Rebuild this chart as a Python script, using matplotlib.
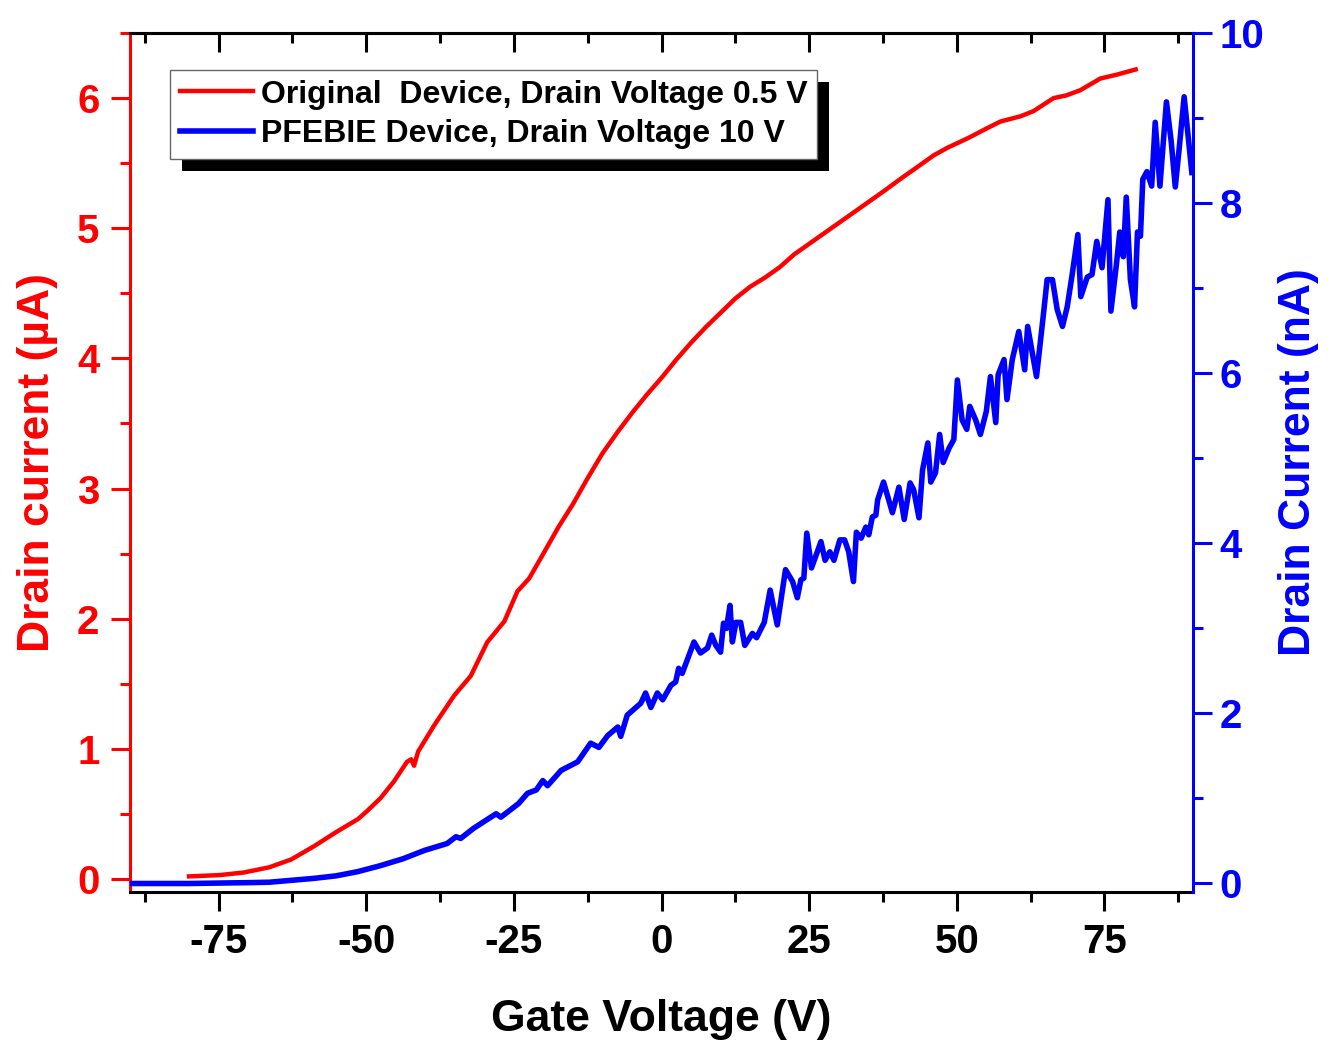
import numpy as np
import matplotlib.pyplot as plt
from matplotlib.ticker import MultipleLocator, NullFormatter
from matplotlib.patches import Rectangle
from matplotlib.transforms import IdentityTransform

plt.rcParams['font.family'] = ['Liberation Sans', 'DejaVu Sans']
plt.rcParams['font.weight'] = 'bold'
plt.rcParams['axes.labelweight'] = 'bold'
plt.rcParams['axes.unicode_minus'] = False

# original device, drain voltage 0.5 V  (gate voltage V, drain current uA)
red_v = [-80, -74.8, -70.7, -66.4, -62.7, -58.9, -55.1, -51.4, -49.9, -47.6,
         -45.3, -43.1, -42.4, -41.9, -41.2, -38.5, -35.1, -32.3, -29.5, -26.6,
         -24.4, -22.4, -20, -17.5, -15, -12.5, -10, -7.5, -5, -2.5,
         0, 2.5, 5, 7.5, 10, 12.5, 15, 17.5, 20, 22.5,
         25, 27.5, 30, 32.5, 35, 37.5, 40.5, 43, 46.1, 48.5,
         51.8, 55.2, 57.4, 60.8, 63, 66.4, 68.5, 70.9, 74.3, 77.1, 80.3]
red_i = [0.02, 0.03, 0.05, 0.09, 0.15, 0.25, 0.36, 0.46, 0.52, 0.62,
         0.75, 0.90, 0.92, 0.87, 0.98, 1.18, 1.41, 1.56, 1.82, 1.98,
         2.21, 2.31, 2.50, 2.70, 2.88, 3.08, 3.27, 3.43, 3.58, 3.72,
         3.85, 3.99, 4.12, 4.24, 4.35, 4.46, 4.55, 4.62, 4.70, 4.80,
         4.88, 4.96, 5.04, 5.12, 5.20, 5.28, 5.38, 5.46, 5.56, 5.62,
         5.69, 5.77, 5.82, 5.86, 5.90, 6.00, 6.02, 6.06, 6.15, 6.18, 6.22]

# PFEBIE device, drain voltage 10 V  (gate voltage V, drain current nA)
blue_v = [-90, -80, -70, -66.4, -58.9, -55.1, -51.4, -47.6, -43.8, -40.1,
          -36.3, -34.8, -34.0, -31.8, -28.0, -27.2, -24.2, -22.7, -21.2, -20.1,
          -19.3, -17.0, -14.2, -12.0, -10.6, -9.1, -7.4, -6.9, -5.8, -3.5,
          -2.7, -1.8, -0.7, 0.2, 1.6, 2.4, 2.9, 3.5, 5.5, 6.6,
          7.8, 8.5, 9.2, 10.0, 10.5, 11.0, 11.6, 12.0, 12.6, 13.4,
          14.1, 15.4, 16.1, 17.4, 18.4, 19.6, 21.0, 22.2, 23.0, 23.6,
          24.1, 24.6, 25.4, 27.0, 27.7, 28.5, 29.2, 30.2, 31.0, 31.7,
          32.5, 33.0, 33.8, 34.6, 35.1, 35.7, 36.3, 36.6, 37.6, 39.1,
          40.2, 41.1, 42.1, 42.7, 43.6, 44.2, 45.1, 45.6, 46.4, 47.1,
          47.7, 48.7, 49.5, 50.1, 50.9, 51.7, 52.2, 53.2, 54.0, 55.0,
          55.7, 56.6, 57.0, 58.0, 58.5, 59.4, 60.5, 61.5, 62.0, 63.5,
          64.7, 65.3, 66.2, 67.0, 67.9, 68.7, 69.5, 70.5, 71.0, 72.1,
          72.9, 73.7, 74.6, 75.6, 76.1, 77.0, 77.6, 78.2, 78.7, 79.4,
          80.1, 80.6, 81.1, 81.5, 82.2, 83.0, 83.6, 84.4, 85.5, 86.3,
          87.0, 87.7, 88.5, 89.8]
blue_i = [0.0, 0.0, 0.01, 0.015, 0.06, 0.09, 0.14, 0.21, 0.29, 0.39,
          0.47, 0.55, 0.53, 0.65, 0.82, 0.78, 0.94, 1.06, 1.10, 1.21,
          1.15, 1.33, 1.43, 1.65, 1.60, 1.74, 1.84, 1.73, 1.98, 2.12,
          2.24, 2.07, 2.24, 2.16, 2.33, 2.37, 2.53, 2.47, 2.84, 2.71,
          2.77, 2.92, 2.80, 2.72, 3.06, 3.00, 3.27, 2.84, 3.07, 3.07,
          2.80, 2.94, 2.89, 3.07, 3.45, 3.04, 3.69, 3.55, 3.36, 3.57,
          3.59, 4.12, 3.71, 4.02, 3.80, 3.90, 3.80, 4.04, 4.04, 3.90,
          3.55, 4.13, 4.06, 4.19, 4.10, 4.31, 4.33, 4.51, 4.72, 4.36,
          4.66, 4.28, 4.71, 4.63, 4.30, 4.86, 5.18, 4.72, 4.83, 5.28,
          4.95, 5.12, 5.22, 5.92, 5.45, 5.34, 5.61, 5.45, 5.28, 5.55,
          5.96, 5.42, 5.98, 6.16, 5.69, 6.16, 6.49, 6.04, 6.55, 5.96,
          6.71, 7.10, 7.10, 6.75, 6.55, 6.78, 7.14, 7.63, 6.90, 7.13,
          7.16, 7.55, 7.24, 8.04, 6.73, 7.26, 7.66, 7.37, 8.07, 7.10,
          6.78, 7.66, 7.61, 8.28, 8.37, 8.20, 8.95, 8.20, 9.19, 8.73,
          8.19, 8.67, 9.25, 8.36]

W, H = 1331, 1041
fig = plt.figure(figsize=(W / 100, H / 100), dpi=100)
ax = fig.add_axes([130 / W, 1 - 892 / H, (1193 - 130) / W, (892 - 33) / H])
ax2 = ax.twinx()

l1, = ax.plot(red_v, red_i, color='#ff0000', lw=3.2,
              label='Original  Device, Drain Voltage 0.5 V')
l2, = ax2.plot(blue_v, blue_i, color='#0000ff', lw=4,
               label='PFEBIE Device, Drain Voltage 10 V')

ax.set_xlim(-90, 90)
ax.set_ylim(-0.1, 6.5)
ax2.set_ylim(-0.1, 10)

ax.xaxis.set_major_locator(MultipleLocator(25))
ax.xaxis.set_minor_locator(MultipleLocator(12.5))
ax.yaxis.set_major_locator(MultipleLocator(1))
ax.yaxis.set_minor_locator(MultipleLocator(0.5))
ax2.yaxis.set_major_locator(MultipleLocator(2))
ax2.yaxis.set_minor_locator(MultipleLocator(1))

lw = 2.2
ax.tick_params(axis='x', which='major', direction='out', length=14, width=lw,
               pad=8, labelsize=29, colors='black')
ax.tick_params(axis='x', which='minor', direction='out', length=7, width=lw)
ax.tick_params(axis='y', which='major', direction='out', length=14, width=lw,
               pad=8, labelsize=29, colors='#ff0000')
ax.tick_params(axis='y', which='minor', direction='out', length=7, width=lw,
               colors='#ff0000')
ax2.tick_params(axis='y', which='major', direction='out', length=14, width=lw,
                pad=5, labelsize=29, colors='#0000ff')
ax2.tick_params(axis='y', which='minor', direction='out', length=7, width=lw,
                colors='#0000ff')

# top ticks point inward, no labels
top = ax.secondary_xaxis('top')
top.xaxis.set_major_locator(MultipleLocator(25))
top.xaxis.set_minor_locator(MultipleLocator(12.5))
top.xaxis.set_major_formatter(NullFormatter())
top.tick_params(which='major', direction='in', length=14, width=lw)
top.tick_params(which='minor', direction='in', length=7, width=lw)
top.spines['top'].set_linewidth(lw)

ax.spines['right'].set_visible(False)
ax2.spines['left'].set_visible(False)
ax2.spines['top'].set_visible(False)
ax2.spines['bottom'].set_visible(False)
ax.spines['left'].set_color('#ff0000')
ax2.spines['right'].set_color('#0000ff')
for s in ['left', 'top', 'bottom']:
    ax.spines[s].set_linewidth(lw)
ax2.spines['right'].set_linewidth(lw)

ax.set_xlabel('Gate Voltage (V)', fontsize=32, labelpad=28)
ax.set_ylabel('Drain current (µA)', fontsize=32, color='#ff0000', labelpad=14)
ax2.set_ylabel('Drain Current (nA)', fontsize=32, color='#0000ff', labelpad=10)

leg = ax2.legend([l1, l2], [l1.get_label(), l2.get_label()],
                 loc='upper left', bbox_to_anchor=(170 / W, 1 - 70 / H),
                 bbox_transform=fig.transFigure, borderaxespad=0,
                 fontsize=23, handlelength=2.3, handletextpad=0.25,
                 borderpad=0.3, labelspacing=0.3, fancybox=False,
                 framealpha=1, edgecolor='#666666')
leg.get_frame().set_linewidth(1)
leg.set_zorder(5)

# black drop shadow behind the legend box
fig.canvas.draw()
bb = leg.get_window_extent()
ax2.add_patch(Rectangle((bb.x0 + 12, bb.y0 - 12), bb.width, bb.height,
                        transform=IdentityTransform(), facecolor='black',
                        edgecolor='none', zorder=4, clip_on=False))

fig.savefig('out.png', dpi=100)
